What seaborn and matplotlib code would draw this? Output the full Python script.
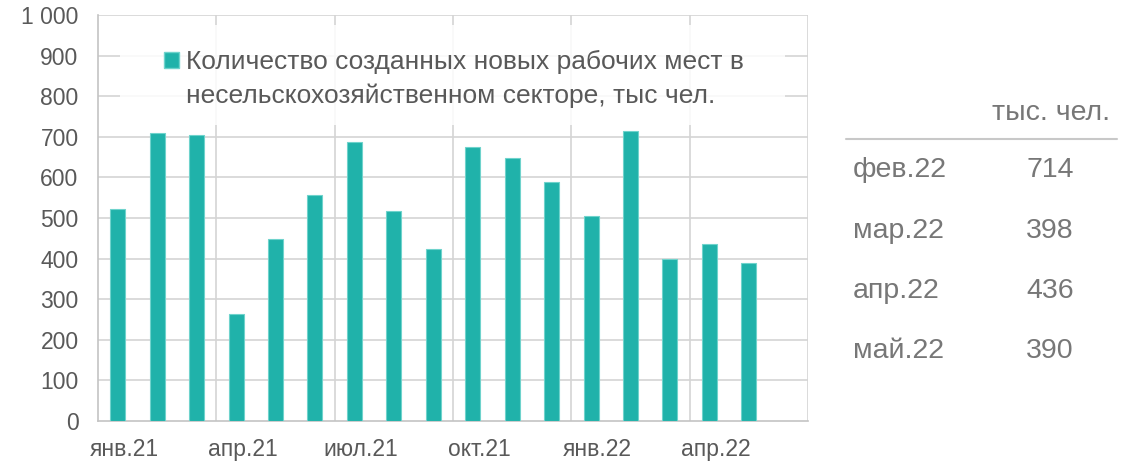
import numpy as np
import pandas as pd
import seaborn as sns
import matplotlib.pyplot as plt
from matplotlib.patches import Patch, Rectangle

# ===== data =====
months = ["янв.21", "фев.21", "мар.21", "апр.21", "май.21", "июн.21",
          "июл.21", "авг.21", "сен.21", "окт.21", "ноя.21", "дек.21",
          "янв.22", "фев.22", "мар.22", "апр.22", "май.22"]
jobs = [521, 710, 704, 264, 448, 557, 688, 518, 423, 676, 647, 588,
        505, 714, 398, 436, 390]
quarter_labels = ["янв.21", "апр.21", "июл.21", "окт.21", "янв.22", "апр.22"]
table_months = ["фев.22", "мар.22", "апр.22", "май.22"]
table_values = [714, 398, 436, 390]
legend_lines = ["Количество созданных новых рабочих мест в",
                "несельскохозяйственном секторе, тыс чел."]

df = pd.DataFrame({"month": months, "jobs": jobs})

# ===== style =====
sns.set_style("white")
plt.rcParams["font.family"] = ["Liberation Sans", "DejaVu Sans"]
bar_color = "#20B2AA"
grid_color = "#d4d4d4"
text_color = "#595959"
table_color = "#777777"

W, H = 1134, 468
fig = plt.figure(figsize=(W / 100, H / 100), dpi=100)
ax = fig.add_axes([98 / W, 1 - 421 / H, 710 / W, 406 / H])

sns.barplot(data=df, x="month", y="jobs", color=bar_color, saturation=1,
            width=0.38, edgecolor="#6fd3cc", linewidth=0.8, ax=ax, zorder=3)

ax.set_xlim(-0.5, 17.5)
ax.set_ylim(0, 1000)
ax.set_yticks(np.arange(0, 1001, 100))
ax.set_yticklabels([f"{v:,}".replace(",", " ") for v in range(0, 1001, 100)])
ax.set_xticks([i * 3 + 0.17 for i in range(len(quarter_labels))])
ax.set_xticklabels(quarter_labels)
ax.tick_params(axis="both", length=0, labelsize=16.5, colors=text_color)
ax.tick_params(axis="y", pad=14)
ax.tick_params(axis="x", pad=12)
ax.set_xlabel("")
ax.set_ylabel("")

# gridlines: horizontal every 100, vertical at quarter boundaries
for v in range(100, 1001, 100):
    ax.axhline(v, color=grid_color, lw=1.2, zorder=1)
for b in np.arange(2.5, 18, 3):
    ax.axvline(b, color=grid_color, lw=1.2, zorder=1)
for s in ["top", "right"]:
    ax.spines[s].set_visible(False)
for s in ["left", "bottom"]:
    ax.spines[s].set_color("#c4c4c4")
    ax.spines[s].set_linewidth(1.2)

# legend box (white, slightly transparent) inside the plot
ax.add_patch(Rectangle(((120 - 98) / 710, (421 - 125) / 406), (785 - 120) / 710,
                       100 / 406, transform=ax.transAxes, facecolor="white",
                       alpha=0.85, edgecolor="none", zorder=2))
handles = [Patch(facecolor=bar_color, edgecolor="#6fd3cc"),
           Patch(facecolor="none", edgecolor="none")]
leg = ax.legend(handles, legend_lines, loc="upper left",
                bbox_to_anchor=((164 - 98) / 710, (421 - 50) / 406),
                frameon=False, fontsize=19, handlelength=0.55, handleheight=0.55,
                handletextpad=0.3, labelspacing=0.34, borderpad=0, borderaxespad=0)
for t in leg.get_texts():
    t.set_color(text_color)
leg.set_zorder(4)

# ===== side table =====
fig.text(1110 / W, 1 - 113 / H, "тыс. чел.", ha="right", va="center",
         fontsize=20.5, color=table_color)
fig.add_artist(plt.Line2D([846 / W, 1117 / W], [1 - 139 / H, 1 - 139 / H],
                          color="#c8c8c8", lw=1.5))
for k, (m, v) in enumerate(zip(table_months, table_values)):
    y = 1 - (170 + k * 60.5) / H
    fig.text(853 / W, y, m, ha="left", va="center", fontsize=20.5, color=table_color)
    fig.text(1050 / W, y, str(v), ha="center", va="center", fontsize=20.5,
             color=table_color)

fig.savefig("out.png", dpi=100)
